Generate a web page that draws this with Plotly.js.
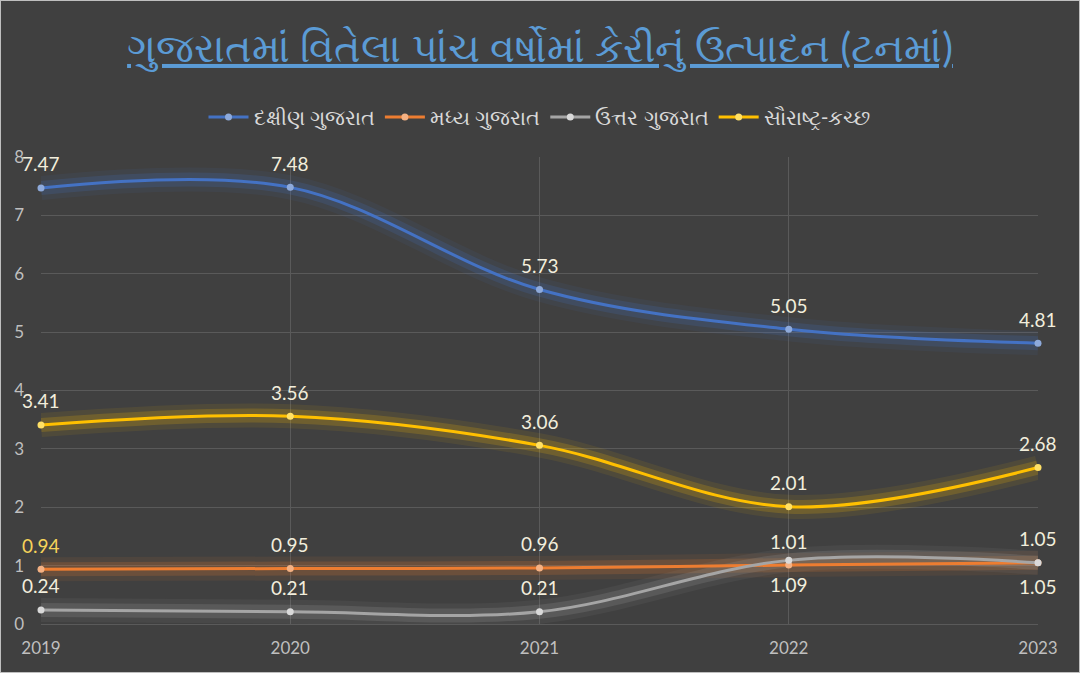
<!DOCTYPE html>
<html>
<head>
<meta charset="utf-8">
<script src="https://cdn.plot.ly/plotly-3.0.1.min.js"></script>
<style>
  html, body { margin: 0; padding: 0; background: #404040; }
  #chart { width: 1078px; height: 671px; border: 1px solid #bfbfbf; background: #404040; }
</style>
</head>
<body>
<div id="chart"></div>
<script>
const years = [2019, 2020, 2021, 2022, 2023];
const seriesNames = ['દક્ષીણ ગુજરાત', 'મધ્ય ગુજરાત', 'ઉત્તર ગુજરાત', 'સૌરાષ્ટ્ર-કચ્છ'];
const south = [7.47, 7.48, 5.73, 5.05, 4.81];
const central = [0.94, 0.95, 0.96, 1.01, 1.05];
const north = [0.24, 0.21, 0.21, 1.09, 1.05];
const saurashtra = [3.41, 3.56, 3.06, 2.01, 2.68];
const yTicks = [0, 1, 2, 3, 4, 5, 6, 7, 8];
const titleText = 'ગુજરાતમાં વિતેલા પાંચ વર્ષોમાં કેરીનું ઉત્પાદન (ટનમાં)';

const lineColors = ['#4472c4', '#ed7d31', '#a5a5a5', '#ffc000'];
const markerColors = ['#8eaadb', '#f4b183', '#d9d9d9', '#ffe066'];
const data = [south, central, north, saurashtra];
// label placement: +1 above point, -1 below point
const labelSide = [
  [1, 1, 1, 1, 1],
  [1, 1, 1, 1, 1],
  [1, 1, 1, -1, -1],
  [1, 1, 1, 1, 1]
];
const labelColors = [
  null,
  ['#f5d35a', '#f2eedc', '#f2eedc', '#f2eedc', '#f2eedc'],
  null,
  null
];

const FONT = 'Lato, "Noto Sans", sans-serif';
const traces = [];
data.forEach((vals, i) => {
  [[24, 0.08], [14, 0.18]].forEach(([w, op]) => {
    traces.push({
      x: years, y: vals, type: 'scatter', mode: 'lines',
      line: { color: lineColors[i], width: w, shape: 'spline', smoothing: 1 },
      opacity: op, showlegend: false, hoverinfo: 'skip'
    });
  });
});
data.forEach((vals, i) => {
  traces.push({
    x: years, y: vals, type: 'scatter', mode: 'lines+markers',
    name: seriesNames[i],
    line: { color: lineColors[i], width: 3, shape: 'spline', smoothing: 1 },
    marker: { color: markerColors[i], size: 7 },
    cliponaxis: false
  });
});

const annotations = [];
data.forEach((vals, i) => {
  vals.forEach((v, j) => {
    annotations.push({
      x: years[j], y: v, xref: 'x', yref: 'y', showarrow: false,
      text: v.toFixed(2), yshift: labelSide[i][j] * 24,
      font: { family: FONT, size: 19, color: (labelColors[i] && labelColors[i][j]) || '#f2eedc' }
    });
  });
});

const layout = {
  width: 1078, height: 671,
  paper_bgcolor: '#404040', plot_bgcolor: '#404040',
  margin: { l: 40, r: 41, t: 156, b: 48 },
  font: { family: FONT, color: '#bfbfbf' },
  title: {
    text: '<u>' + titleText + '</u>',
    font: { family: FONT, size: 40, color: '#5b9bd5' },
    x: 0.5, xanchor: 'center', y: 0.93, yanchor: 'middle'
  },
  showlegend: true,
  legend: {
    orientation: 'h', x: 0.5, xanchor: 'center', y: 1.085, yanchor: 'middle',
    font: { family: FONT, size: 21, color: '#d9d9d9' },
    bgcolor: 'rgba(0,0,0,0)', itemwidth: 40
  },
  xaxis: {
    range: [2019, 2023], tickvals: years, ticktext: years.map(String),
    showgrid: true, gridcolor: '#5a5a5a', gridwidth: 1,
    zeroline: false, showline: false, ticks: '',
    tickfont: { family: FONT, size: 17, color: '#bfbfbf' }, ticklabelstandoff: 12
  },
  yaxis: {
    range: [0, 8], tickvals: yTicks,
    showgrid: true, gridcolor: '#5a5a5a', gridwidth: 1,
    zeroline: true, zerolinecolor: '#5a5a5a', showline: false, ticks: '',
    tickfont: { family: FONT, size: 17, color: '#bfbfbf' }, ticklabelstandoff: 16
  },
  annotations: annotations,
  hovermode: false
};

Plotly.newPlot('chart', traces, layout, { displayModeBar: false, staticPlot: true });
</script>
</body>
</html>
